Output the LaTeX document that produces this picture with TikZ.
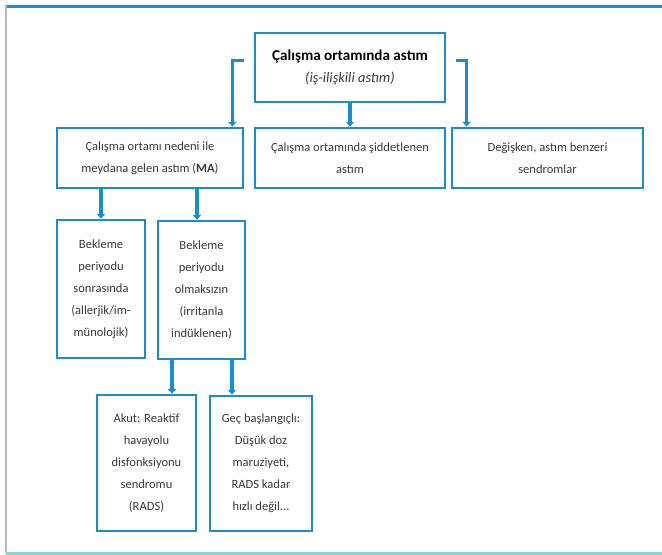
\documentclass[tikz,border=0pt]{standalone}
\usepackage{fontspec}
\setmainfont{Carlito}
\usepackage{tikz}
\usetikzlibrary{arrows.meta,positioning}
\definecolor{boxblue}{HTML}{1A8DD0}
\definecolor{bodytext}{HTML}{3A3A3A}
\definecolor{edgegray}{HTML}{B4B6C0}
\definecolor{baseteal}{HTML}{86D6CE}
\tikzset{
  box/.style={draw=boxblue,line width=2.4pt,align=center,inner sep=0pt,text=bodytext,font=\fontsize{10.7}{18.8}\selectfont},
  conn/.style={draw=boxblue,line width=3pt,-{Triangle[width=7pt,length=4pt]}}
}
\begin{document}
\begin{tikzpicture}[x=0.03cm,y=-0.03cm]
\useasboundingbox (0,0) rectangle (662,555);
\draw[edgegray,line width=1.5pt] (6,5)--(6,553);
\draw[boxblue,line width=2.6pt] (7,6.5)--(662,6.5);
\draw[baseteal,line width=2.2pt] (6,553.5)--(662,553.5);
\node[box,minimum width=5.7cm,minimum height=2.07cm,font=\fontsize{12.9}{19.5}\selectfont] (top) at (350,67.5) {\textbf{\color{black}Çalışma ortamında astım}\\[-1pt]{\itshape\fontsize{12.3}{13}\selectfont (iş-ilişkili astım)}};
\node[box,minimum width=5.58cm,minimum height=1.8cm] (ma) at (150,158) {Çalışma ortamı nedeni ile\\meydana gelen astım (\textbf{MA})};
\node[box,minimum width=5.7cm,minimum height=1.8cm] (worse) at (350,158) {Çalışma ortamında şiddetlenen\\astım};
\node[box,minimum width=5.73cm,minimum height=1.8cm] (like) at (547.5,158) {Değişken, astım benzeri\\sendromlar};
\node[box,minimum width=2.64cm,minimum height=4.14cm] (latent) at (101,289) {Bekleme\\periyodu\\sonrasında\\(allerjik/im-\\münolojik)};
\node[box,minimum width=2.61cm,minimum height=4.14cm] (nolatent) at (201.5,290) {Bekleme\\periyodu\\olmaksızın\\(irritanla\\indüklenen)};
\node[box,minimum width=2.97cm,minimum height=4.08cm] (rads) at (146.5,463) {Akut: Reaktif\\havayolu\\disfonksiyonu\\sendromu\\(RADS)};
\node[box,minimum width=3.06cm,minimum height=4.05cm] (late) at (261,463.5) {Geç başlangıçlı:\\Düşük doz\\maruziyeti,\\RADS kadar\\hızlı değil...};
\draw[conn] (top.south)--(worse.north);
\draw[conn] ([shift={(-10,-7)}]top.west) -| ([xshift=-0.36cm]ma.north east);
\draw[conn] ([shift={(10,-7)}]top.east) -| ([xshift=0.48cm]like.north west);
\draw[conn] (ma.south -| latent.north)--(latent.north);
\draw[conn] (ma.south -| 197,0)--(nolatent.north -| 197,0);
\draw[conn] (nolatent.south -| 172,0)--(rads.north -| 172,0);
\draw[conn] (nolatent.south -| 232,0)--(late.north -| 232,0);
\end{tikzpicture}
\end{document}
